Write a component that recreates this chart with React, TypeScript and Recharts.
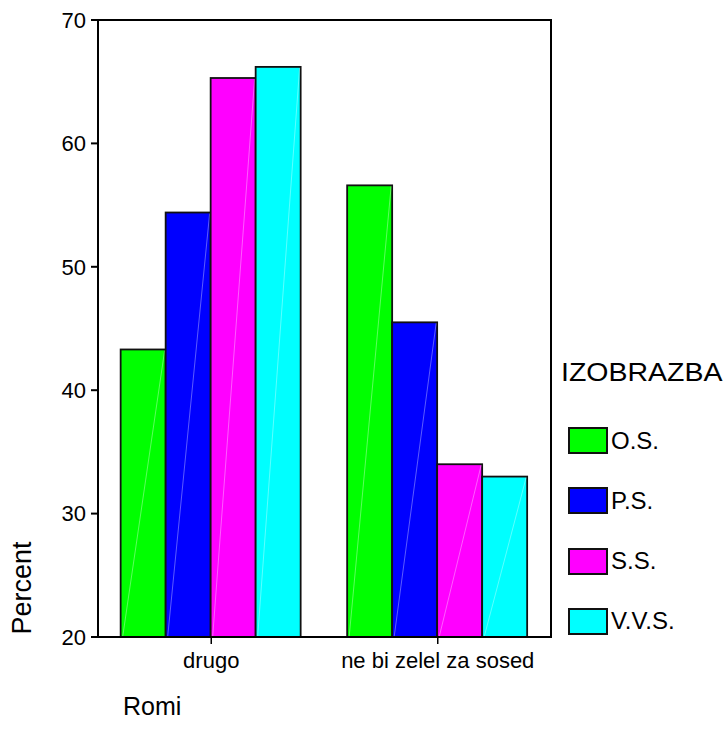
import React from "react";
import { BarChart, Bar, XAxis, YAxis, ReferenceArea } from "recharts";

const categories = ["drugo", "ne bi zelel za sosed"];
const seriesNames = ["O.S.", "P.S.", "S.S.", "V.V.S."];
const seriesColors = ["#00ff00", "#0000ff", "#ff00ff", "#00ffff"];
const osValues = [43.3, 56.6];
const psValues = [54.4, 45.5];
const ssValues = [65.3, 34.0];
const vvsValues = [66.2, 33.0];
const yTicks = [20, 30, 40, 50, 60, 70];

const seriesValues = [osValues, psValues, ssValues, vvsValues];

const data = categories.map((c, i) => {
  const row: any = { category: c };
  seriesNames.forEach((s, j) => {
    row[s] = seriesValues[j][i];
  });
  return row;
});

const font = "'Liberation Sans', Arial, sans-serif";

// SPSS-style bar: black outline plus a faint white diagonal
const BarShape = (props: any) => {
  const { x, y, width, height, fill } = props;
  return (
    <g>
      <rect x={x} y={y} width={width} height={height} fill={fill} stroke="#111" strokeWidth={1.8} />
      <line
        x1={x + 2}
        y1={y + height}
        x2={x + width - 1}
        y2={y + 1}
        stroke="#fff"
        strokeOpacity={0.45}
        strokeWidth={0.8}
      />
    </g>
  );
};

export default function App() {
  return (
    <div style={{ position: "absolute", left: 0, top: 0, width: 723, height: 740, background: "#fff", fontFamily: font }}>
      <BarChart
        width={723}
        height={740}
        data={data}
        margin={{ top: 20, right: 172, bottom: 63, left: 0 }}
        barCategoryGap="10%"
        barGap={0}
      >
        <XAxis
          dataKey="category"
          height={40}
          tickSize={7}
          tickMargin={8}
          axisLine={{ stroke: "#000", strokeWidth: 2 }}
          tickLine={{ stroke: "#000", strokeWidth: 1.5 }}
          tick={{ fontSize: 22, fill: "#000", fontFamily: font }}
        />
        <YAxis
          domain={[20, 70]}
          ticks={yTicks}
          allowDataOverflow
          width={98}
          tickSize={7}
          tickMargin={5}
          axisLine={{ stroke: "#000", strokeWidth: 2 }}
          tickLine={{ stroke: "#000", strokeWidth: 2 }}
          tick={{ fontSize: 22, fill: "#000", fontFamily: font }}
        />
        <ReferenceArea y1={20} y2={70} fill="none" stroke="#000" strokeWidth={2} />
        {seriesNames.map((s, i) => (
          <Bar key={s} dataKey={s} fill={seriesColors[i]} shape={<BarShape />} isAnimationActive={false} />
        ))}
      </BarChart>

      <div
        style={{
          position: "absolute",
          left: 22,
          top: 588,
          transform: "translate(-50%, -50%) rotate(-90deg)",
          fontSize: 27,
          whiteSpace: "nowrap",
          lineHeight: 1,
        }}
      >
        Percent
      </div>

      <div style={{ position: "absolute", left: 123, top: 694, fontSize: 25, lineHeight: 1 }}>Romi</div>

      <div style={{ position: "absolute", left: 561, top: 360 }}>
        <div style={{ fontSize: 25, lineHeight: 1, whiteSpace: "nowrap", transform: "scaleX(1.14)", transformOrigin: "left" }}>
          IZOBRAZBA
        </div>
        {seriesNames.map((s, i) => (
          <div
            key={s}
            style={{ position: "absolute", left: 7, top: 67 + i * 60.3, display: "flex", alignItems: "center", whiteSpace: "nowrap" }}
          >
            <div
              style={{
                width: 36,
                height: 23,
                background: seriesColors[i],
                border: "2px solid #111",
              }}
            />
            <span style={{ fontSize: 24, marginLeft: 3, lineHeight: 1 }}>{s}</span>
          </div>
        ))}
      </div>
    </div>
  );
}
